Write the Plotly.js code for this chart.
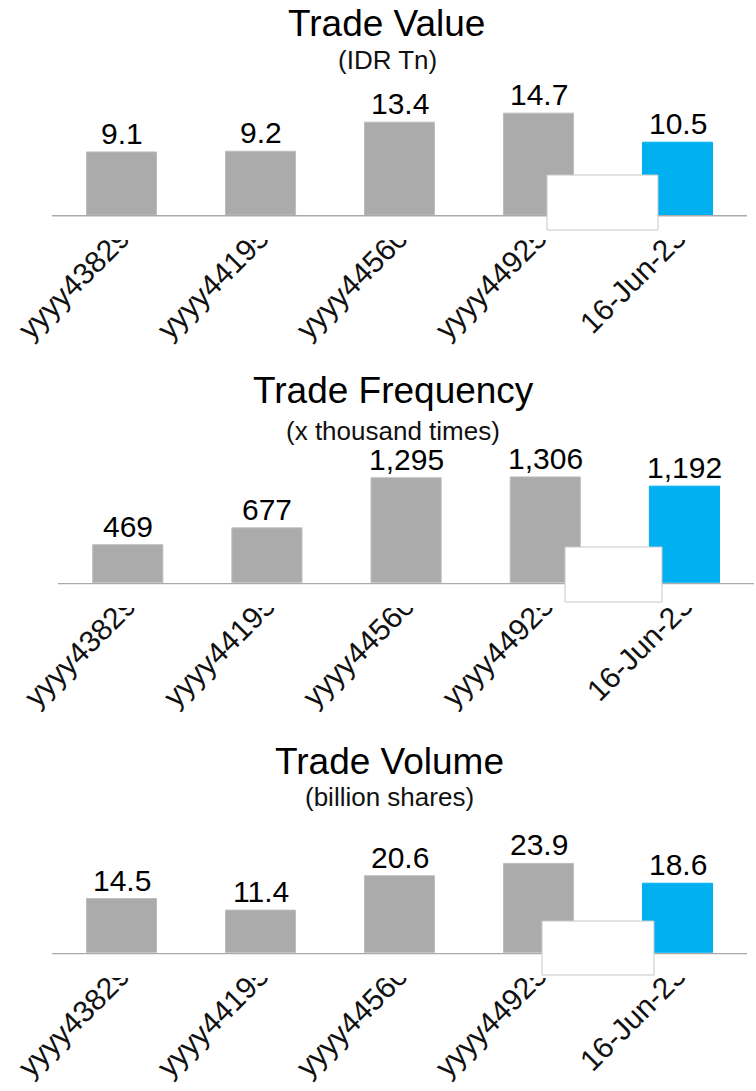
<!DOCTYPE html>
<html>
<head>
<meta charset="utf-8">
<script src="https://cdn.plot.ly/plotly-3.0.1.min.js"></script>
<style>
  html, body { margin: 0; padding: 0; background: #ffffff; }
  #chart { width: 756px; height: 1091px; }
</style>
</head>
<body>
<div id="chart"></div>
<script>
// ---- data ----
const categories = ['yyyy43829', 'yyyy44195', 'yyyy44560', 'yyyy44925', '16-Jun-23'];
const tradeValue = [9.1, 9.2, 13.4, 14.7, 10.5];
const tradeFrequency = [469, 677, 1295, 1306, 1192];
const tradeVolume = [14.5, 11.4, 20.6, 23.9, 18.6];
const titles = ['Trade Value', 'Trade Frequency', 'Trade Volume'];
const subtitles = ['(IDR Tn)', '(x thousand times)', '(billion shares)'];
const seriesList = [tradeValue, tradeFrequency, tradeVolume];
const formatters = [
  v => v.toFixed(1),
  v => v.toLocaleString('en-US'),
  v => v.toFixed(1)
];

// ---- styling / layout helpers ----
const W = 756, H = 1091;
const px = x => x / W;
const py = y => 1 - y / H;
const FONT = '"Liberation Sans", Arial, sans-serif';
const GRAY = '#ababab';
const BLUE = '#00b0f0';

const panels = [
  {axis: 215.0, top: 80, left: 52, right: 747, scale: 6.93,
   titleX: 386.5, titleY: 23.5, subX: 387.5, subY: 59.5,
   box: [547, 658, 175, 230], clipTop: 240, clipBottom: 353, clipEnd: 372},
  {axis: 582.7, top: 450, left: 58.2, right: 754, scale: 0.081,
   titleX: 393, titleY: 390, subX: 392.5, subY: 431.5,
   box: [565, 662, 547, 602], clipTop: 608, clipBottom: 721, clipEnd: 744},
  {axis: 952.7, top: 820, left: 52, right: 747, scale: 3.735,
   titleX: 389, titleY: 761.5, subX: 389, subY: 796.5,
   box: [542, 654, 921, 975], clipTop: 978, clipBottom: 1091, clipEnd: 1095}
];

const data = [];
const layout = {
  width: W, height: H,
  margin: {l: 0, r: 0, t: 0, b: 0},
  paper_bgcolor: '#ffffff',
  plot_bgcolor: 'rgba(0,0,0,0)',
  showlegend: false,
  bargap: 0.496,
  font: {family: FONT, color: '#000000'},
  annotations: [],
  shapes: []
};

panels.forEach((p, i) => {
  const n = i === 0 ? '' : String(i + 1);
  const vals = seriesList[i];
  const colors = vals.map((v, k) => k === vals.length - 1 ? BLUE : GRAY);
  const lineColors = vals.map((v, k) => k === vals.length - 1 ? BLUE : '#bdbdbd');
  data.push({
    type: 'bar',
    x: categories,
    y: vals,
    xaxis: 'x' + n,
    yaxis: 'y' + n,
    marker: {color: colors, line: {color: lineColors, width: 1}},
    cliponaxis: false,
    hoverinfo: 'skip'
  });
  // value labels above the bars
  vals.forEach((v, k) => {
    layout.annotations.push({
      xref: 'x' + n, yref: 'y' + n, x: categories[k], y: v,
      xanchor: 'center', yanchor: 'bottom', showarrow: false,
      borderpad: 0, yshift: 1,
      text: formatters[i](v), font: {size: 30, color: '#000000', family: FONT}
    });
  });
  layout['xaxis' + n] = {
    type: 'category',
    domain: [px(p.left), px(p.right)],
    anchor: 'y' + n,
    showline: true,
    linecolor: '#aaaaaa',
    linewidth: 2,
    showgrid: false,
    zeroline: false,
    ticks: '',
    tickangle: -45,
    ticklabelstandoff: -9,
    tickfont: {size: 30, color: '#111111', family: FONT},
    fixedrange: true
  };
  layout['yaxis' + n] = {
    domain: [py(p.axis), py(p.top)],
    range: [0, (p.axis - p.top) / p.scale],
    anchor: 'x' + n,
    visible: false,
    showgrid: false,
    zeroline: false,
    fixedrange: true
  };
  layout.annotations.push({
    xref: 'paper', yref: 'paper', x: px(p.titleX), y: py(p.titleY),
    xanchor: 'center', yanchor: 'middle', showarrow: false, borderpad: 0,
    text: titles[i], font: {size: 37, color: '#000000', family: FONT}
  });
  layout.annotations.push({
    xref: 'paper', yref: 'paper', x: px(p.subX), y: py(p.subY),
    xanchor: 'center', yanchor: 'middle', showarrow: false, borderpad: 0,
    text: subtitles[i], font: {size: 26, color: '#111111', family: FONT}
  });
  // white masks that crop the rotated tick labels like the original picture
  layout.shapes.push({
    type: 'rect', layer: 'above', xref: 'paper', yref: 'paper',
    x0: 0, x1: 1, y0: py(p.axis + 1.5), y1: py(p.clipTop),
    fillcolor: '#ffffff', line: {width: 0}
  });
  layout.shapes.push({
    type: 'rect', layer: 'above', xref: 'paper', yref: 'paper',
    x0: 0, x1: 1, y0: py(p.clipBottom), y1: py(p.clipEnd),
    fillcolor: '#ffffff', line: {width: 0}
  });
  // white box overlay
  layout.shapes.push({
    type: 'rect', layer: 'above', xref: 'paper', yref: 'paper',
    x0: px(p.box[0]), x1: px(p.box[1]), y0: py(p.box[3]), y1: py(p.box[2]),
    fillcolor: '#ffffff', line: {color: '#c8c8c8', width: 1}
  });
});

Plotly.newPlot('chart', data, layout, {displayModeBar: false, staticPlot: true});
</script>
</body>
</html>
